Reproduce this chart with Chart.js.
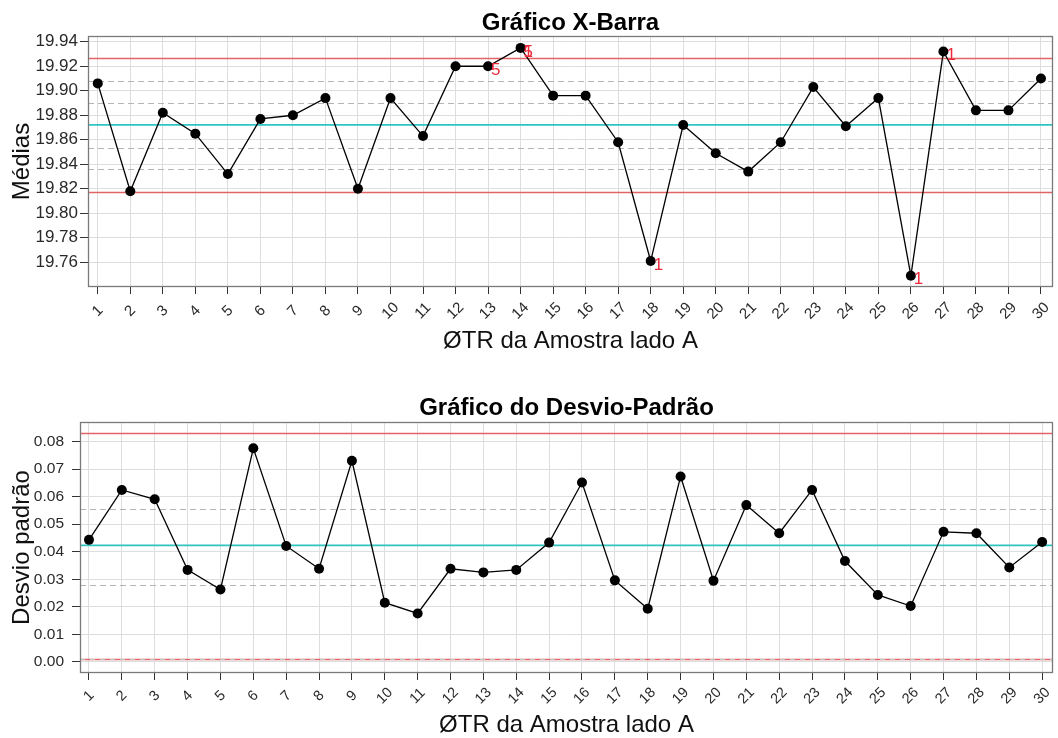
<!DOCTYPE html>
<html>
<head>
<meta charset="utf-8">
<script src="https://cdn.jsdelivr.net/npm/chart.js@4.4.0/dist/chart.umd.min.js"></script>
<style>
  html, body { margin: 0; padding: 0; background: #fff; }
  #wrap { position: relative; width: 1058px; height: 738px; }
  .panel { position: absolute; left: 0; width: 1058px; height: 369px; }
</style>
</head>
<body>
<div id="wrap">
  <div class="panel" style="top:0"><canvas id="cMean" width="1058" height="369"></canvas></div>
  <div class="panel" style="top:369px"><canvas id="cSd" width="1058" height="369"></canvas></div>
</div>
<script>
// Sample numbers on the x axis
const samples = [1,2,3,4,5,6,7,8,9,10,11,12,13,14,15,16,17,18,19,20,21,22,23,24,25,26,27,28,29,30];

// Subgroup means (X-bar chart)
const means = [19.906, 19.818, 19.882, 19.865, 19.832, 19.877, 19.880, 19.894, 19.820, 19.894,
               19.863, 19.920, 19.920, 19.935, 19.896, 19.896, 19.858, 19.761, 19.872, 19.849,
               19.834, 19.858, 19.903, 19.871, 19.894, 19.749, 19.932, 19.884, 19.884, 19.910];

// Subgroup standard deviations (S chart)
const sds = [0.0443, 0.0624, 0.0590, 0.0334, 0.0263, 0.0775, 0.0421, 0.0338, 0.0730, 0.0215,
             0.0176, 0.0338, 0.0325, 0.0334, 0.0433, 0.0651, 0.0296, 0.0193, 0.0673, 0.0295,
             0.0569, 0.0467, 0.0624, 0.0366, 0.0243, 0.0203, 0.0472, 0.0467, 0.0343, 0.0435];

// Axis tick values
const meanTicks = [19.76, 19.78, 19.80, 19.82, 19.84, 19.86, 19.88, 19.90, 19.92, 19.94];
const sdTicks = [0.00, 0.01, 0.02, 0.03, 0.04, 0.05, 0.06, 0.07, 0.08];

// Control limits: [LCL, centre, UCL] and the dashed sigma zones
const meanLimits = [19.8171, 19.8722, 19.9265];
const meanZones = [19.8358, 19.8535, 19.8902, 19.9079];
const sdLimits = [0.0012, 0.0423, 0.0830];
const sdZones = [0.0012, 0.0278, 0.0555];

// Rule-violation flags on the X-bar chart
const meanFlagSample = [13, 14, 14, 18, 26, 27];
const meanFlagText = ['5', '5', '1', '1', '1', '1'];

const FONT = '"Liberation Sans", Arial, sans-serif';

function drawText(ctx, text, x, y, font, color, align, baseline, rot) {
  ctx.save();
  ctx.translate(x, y);
  if (rot) ctx.rotate(rot);
  ctx.font = font;
  ctx.fillStyle = color;
  ctx.textAlign = align;
  ctx.textBaseline = baseline;
  ctx.fillText(text, 0, 0);
  ctx.restore();
}

function hLine(ctx, area, y, color, width, dash) {
  ctx.save();
  ctx.beginPath();
  ctx.strokeStyle = color;
  ctx.lineWidth = width;
  ctx.setLineDash(dash || []);
  ctx.moveTo(area.left, y);
  ctx.lineTo(area.right, y);
  ctx.stroke();
  ctx.restore();
}

function makeChart(id, cfg) {
  const H = 369, W = 1058;
  const decor = {
    id: 'decor',
    beforeDatasetsDraw(chart) {
      const ctx = chart.ctx, a = chart.chartArea, ys = chart.scales.y;
      const at = v => Math.round(ys.getPixelForValue(v)) + 0.5;
      cfg.zones.forEach(v => hLine(ctx, a, at(v), '#b4b4b4', 1.2, [6, 4]));
      hLine(ctx, a, at(cfg.limits[0]), '#e36464', 1.3);
      hLine(ctx, a, at(cfg.limits[2]), '#e36464', 1.3);
      hLine(ctx, a, ys.getPixelForValue(cfg.limits[1]), '#2ec4c0', 1.8);
      if (cfg.dashOverLcl) {
        hLine(ctx, a, at(cfg.limits[0]), '#c4c4c4', 1.2, [5, 5]);
      }
    },
    afterDraw(chart) {
      const ctx = chart.ctx, a = chart.chartArea, xs = chart.scales.x, ys = chart.scales.y;
      // plot frame
      ctx.save();
      ctx.strokeStyle = '#7a7a7a';
      ctx.lineWidth = 1.3;
      ctx.strokeRect(a.left + 0.5, a.top + 0.5, a.right - a.left - 1, a.bottom - a.top - 1);
      ctx.restore();
      // y tick labels
      cfg.yTicks.forEach(v => {
        drawText(ctx, v.toFixed(2), a.left - cfg.yLabelGap, ys.getPixelForValue(v),
                 cfg.yTickFont + 'px ' + FONT, '#2a2a2a', 'right', 'middle');
      });
      // x tick labels, rotated
      samples.forEach(s => {
        drawText(ctx, String(s), xs.getPixelForValue(s), a.bottom + cfg.xLabelDy,
                 cfg.xTickFont + 'px ' + FONT, '#2a2a2a', 'center', 'middle', -Math.PI / 4);
      });
      const cx = (a.left + a.right) / 2;
      drawText(ctx, cfg.title, cx, a.top - cfg.titleDy, 'bold 24px ' + FONT, '#000', 'center', 'alphabetic');
      drawText(ctx, 'ØTR da Amostra lado A', cx, a.bottom + cfg.xTitleDy, '24px ' + FONT, '#111', 'center', 'alphabetic');
      drawText(ctx, cfg.yTitle, 22, (a.top + a.bottom) / 2, '24px ' + FONT, '#111', 'center', 'middle', -Math.PI / 2);
      // rule flags
      (cfg.flagSample || []).forEach((s, i) => {
        const px = xs.getPixelForValue(s), py = ys.getPixelForValue(cfg.values[s - 1]);
        drawText(ctx, cfg.flagText[i], px + 3, py + 4, '17px ' + FONT, '#ec2a3a', 'left', 'middle');
      });
    }
  };

  return new Chart(document.getElementById(id), {
    type: 'line',
    data: {
      datasets: [{
        data: samples.map((s, i) => ({ x: s, y: cfg.values[i] })),
        borderColor: '#000',
        borderWidth: 1.3,
        pointRadius: 5,
        pointBackgroundColor: '#000',
        pointBorderColor: '#000',
        pointBorderWidth: 0,
        tension: 0,
        fill: false
      }]
    },
    options: {
      responsive: false,
      animation: false,
      devicePixelRatio: 1,
      layout: { padding: { left: 0, top: cfg.top, right: W - cfg.right, bottom: 0 } },
      plugins: { legend: { display: false }, tooltip: { enabled: false }, title: { display: false } },
      scales: {
        x: {
          type: 'linear',
          min: cfg.xMin,
          max: cfg.xMax,
          afterBuildTicks: s => { s.ticks = samples.map(v => ({ value: v })); },
          afterFit: s => { s.height = H - cfg.bottom; },
          ticks: { display: false },
          border: { display: false },
          grid: { color: '#dedede', lineWidth: 1, drawTicks: true, tickLength: 7, tickColor: '#333' }
        },
        y: {
          min: cfg.yMin,
          max: cfg.yMax,
          afterBuildTicks: s => { s.ticks = cfg.yTicks.map(v => ({ value: v })); },
          afterFit: s => { s.width = cfg.left; },
          ticks: { display: false },
          border: { display: false },
          grid: { color: '#dedede', lineWidth: 1, drawTicks: true, tickLength: 8, tickColor: '#333' }
        }
      }
    },
    plugins: [decor]
  });
}

makeChart('cMean', {
  values: means, yTicks: meanTicks, limits: meanLimits, zones: meanZones,
  yMin: 19.7398, yMax: 19.9447, xMin: 0.70, xMax: 30.37,
  left: 88, right: 1056, top: 36, bottom: 287,
  yLabelGap: 10, yTickFont: 17, xTickFont: 15, xLabelDy: 24, xTitleDy: 61, titleDy: 6,
  title: 'Gráfico X-Barra', yTitle: 'Médias',
  flagSample: meanFlagSample, flagText: meanFlagText
});

makeChart('cSd', {
  values: sds, yTicks: sdTicks, limits: sdLimits, zones: sdZones, dashOverLcl: true,
  yMin: -0.0040, yMax: 0.08705, xMin: 0.727, xMax: 30.33,
  left: 80, right: 1055, top: 53, bottom: 304,
  yLabelGap: 16, yTickFont: 15.5, xTickFont: 14.5, xLabelDy: 23, xTitleDy: 59, titleDy: 7,
  title: 'Gráfico do Desvio-Padrão', yTitle: 'Desvio padrão'
});
</script>
</body>
</html>
